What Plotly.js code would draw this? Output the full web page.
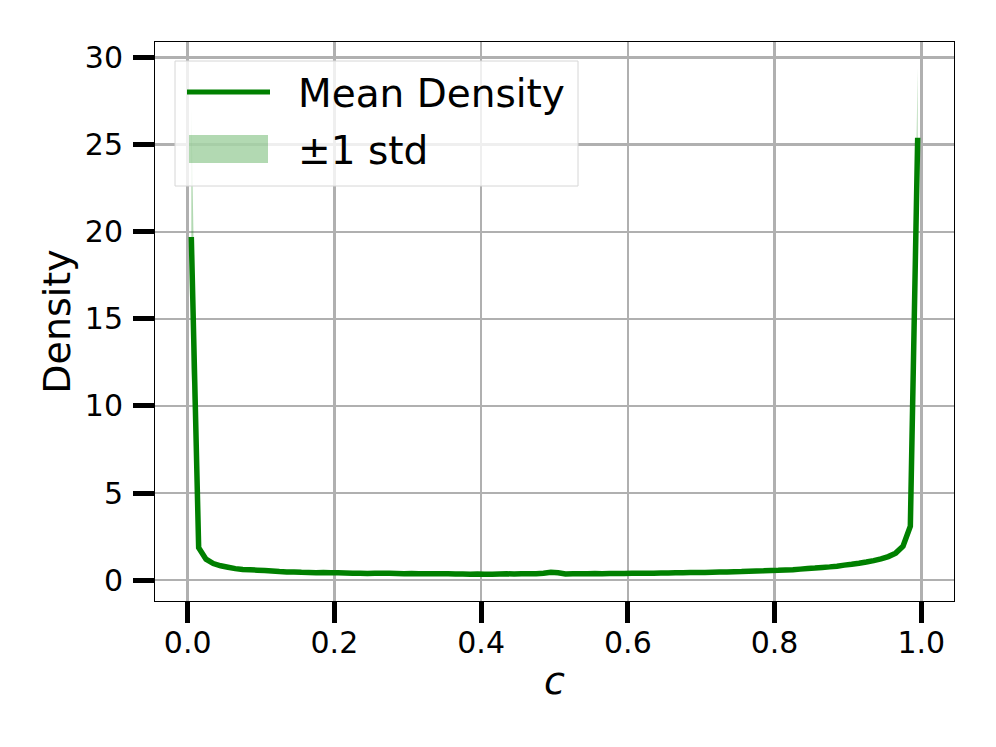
<!DOCTYPE html>
<html>
<head>
<meta charset="utf-8">
<script src="https://cdn.plot.ly/plotly-3.0.1.min.js"></script>
<style>
  body { margin: 0; background: #fff; }
  #graph { width: 996px; height: 747px; }
</style>
</head>
<body>
<div id="graph"></div>
<script>
// bin centres of c
var cValues = [];
for (var i = 0; i < 100; i++) {
    cValues.push(Math.round((0.005 + i * 0.01) * 1000) / 1000);
}

// mean density per bin
var meanDensity = [
    19.7, 1.86, 1.20, 0.95, 0.82, 0.74, 0.66, 0.61, 0.59, 0.57,
    0.55, 0.52, 0.49, 0.47, 0.47, 0.45, 0.44, 0.42, 0.43, 0.42,
    0.42, 0.41, 0.40, 0.40, 0.38, 0.39, 0.40, 0.39, 0.38, 0.37,
    0.38, 0.36, 0.36, 0.37, 0.36, 0.36, 0.35, 0.35, 0.34, 0.35,
    0.34, 0.33, 0.35, 0.36, 0.35, 0.36, 0.36, 0.37, 0.40, 0.45,
    0.42, 0.35, 0.36, 0.37, 0.37, 0.38, 0.37, 0.38, 0.38, 0.38,
    0.39, 0.39, 0.40, 0.40, 0.41, 0.41, 0.42, 0.42, 0.43, 0.44,
    0.44, 0.45, 0.46, 0.47, 0.48, 0.49, 0.51, 0.52, 0.53, 0.55,
    0.56, 0.58, 0.60, 0.63, 0.66, 0.69, 0.73, 0.76, 0.80, 0.86,
    0.91, 0.97, 1.04, 1.12, 1.22, 1.35, 1.55, 1.95, 3.10, 25.4
];

// standard deviation per bin
var stdDensity = [
    7.5, 0.20, 0.10, 0.07, 0.06, 0.05, 0.05, 0.05, 0.04, 0.04,
    0.04, 0.04, 0.04, 0.04, 0.04, 0.04, 0.04, 0.04, 0.04, 0.04,
    0.04, 0.04, 0.04, 0.04, 0.04, 0.04, 0.04, 0.04, 0.04, 0.04,
    0.04, 0.04, 0.04, 0.04, 0.04, 0.04, 0.04, 0.04, 0.04, 0.04,
    0.04, 0.04, 0.04, 0.04, 0.04, 0.04, 0.04, 0.04, 0.04, 0.05,
    0.05, 0.04, 0.04, 0.04, 0.04, 0.04, 0.04, 0.04, 0.04, 0.04,
    0.04, 0.04, 0.04, 0.04, 0.04, 0.04, 0.04, 0.04, 0.04, 0.04,
    0.04, 0.04, 0.04, 0.04, 0.04, 0.04, 0.04, 0.04, 0.04, 0.04,
    0.04, 0.04, 0.04, 0.04, 0.04, 0.05, 0.05, 0.05, 0.05, 0.05,
    0.05, 0.05, 0.06, 0.06, 0.07, 0.08, 0.10, 0.15, 0.40, 4.0
];

var xTicks = [0.0, 0.2, 0.4, 0.6, 0.8, 1.0];
var yTicks = [0, 5, 10, 15, 20, 25, 30];

var lineName = "Mean Density";
var bandName = "\u00b11 std";

function drawGraph() {
    var lower = [], upper = [];
    for (var i = 0; i < meanDensity.length; i++) {
        lower.push(meanDensity[i] - stdDensity[i]);
        upper.push(meanDensity[i] + stdDensity[i]);
    }

    var green = "#008000";
    var bandFill = "rgba(0,128,0,0.3)";

    var traces = [
        { x: cValues, y: lower, type: "scatter", mode: "lines",
          line: { width: 0, color: bandFill, simplify: false }, showlegend: false, hoverinfo: "skip" },
        { x: cValues, y: upper, type: "scatter", mode: "lines", fill: "tonexty",
          fillcolor: bandFill, line: { width: 0, color: bandFill, simplify: false },
          name: bandName, showlegend: false },
        { x: cValues, y: meanDensity, type: "scatter", mode: "lines",
          line: { width: 5.5, color: green, simplify: false }, name: lineName, showlegend: false }
    ];

    // plot area in pixels, used to place the hand-made legend
    var L = 155, R = 954, T = 42, B = 601;
    function px(x) { return (x - L) / (R - L); }
    function py(y) { return (B - y) / (B - T); }

    var font = "DejaVu Sans, Liberation Sans, sans-serif";

    var layout = {
        width: 996,
        height: 747,
        margin: { l: L, r: 996 - R, t: T, b: 747 - B },
        paper_bgcolor: "#ffffff",
        plot_bgcolor: "#ffffff",
        font: { family: font, color: "#000000", size: 30 },
        showlegend: false,
        xaxis: {
            range: [-0.0445, 1.0445],
            tickvals: xTicks,
            ticktext: xTicks.map(function (v) { return v.toFixed(1); }),
            ticks: "outside", ticklen: 21, tickwidth: 5, tickcolor: "#000",
            ticklabelstandoff: -6,
            showgrid: true, gridcolor: "#b0b0b0", gridwidth: 2.5,
            zeroline: false,
            showline: true, linecolor: "#000", linewidth: 1, mirror: true,
            tickfont: { size: 30 },
            title: { text: "<i>c</i>", font: { size: 38 }, standoff: 8 }
        },
        yaxis: {
            range: [-1.2, 30.9],
            tickvals: yTicks,
            ticks: "outside", ticklen: 21, tickwidth: 5, tickcolor: "#000",
            ticklabelstandoff: 4,
            showgrid: true, gridcolor: "#b0b0b0", gridwidth: 2.5,
            zeroline: false,
            showline: true, linecolor: "#000", linewidth: 1, mirror: true,
            tickfont: { size: 30 },
            title: { text: "Density", font: { size: 38 }, standoff: 2 }
        },
        shapes: [
            { type: "rect", xref: "paper", yref: "paper", layer: "above",
              x0: px(175), x1: px(578), y0: py(186), y1: py(61),
              fillcolor: "rgba(255,255,255,0.8)", line: { color: "#d6d6d6", width: 1 } },
            { type: "line", xref: "paper", yref: "paper", layer: "above",
              x0: px(187), x1: px(270), y0: py(92), y1: py(92),
              line: { color: green, width: 5 } },
            { type: "rect", xref: "paper", yref: "paper", layer: "above",
              x0: px(189), x1: px(268), y0: py(163), y1: py(135),
              fillcolor: bandFill, line: { width: 0 } }
        ],
        annotations: [
            { xref: "paper", yref: "paper", x: px(296), y: py(93), xanchor: "left", yanchor: "middle",
              text: lineName, showarrow: false, font: { size: 39 } },
            { xref: "paper", yref: "paper", x: px(296), y: py(150), xanchor: "left", yanchor: "middle",
              text: bandName, showarrow: false, font: { size: 39 } }
        ]
    };

    Plotly.newPlot("graph", traces, layout, { staticPlot: true });
}

drawGraph();
</script>
</body>
</html>
